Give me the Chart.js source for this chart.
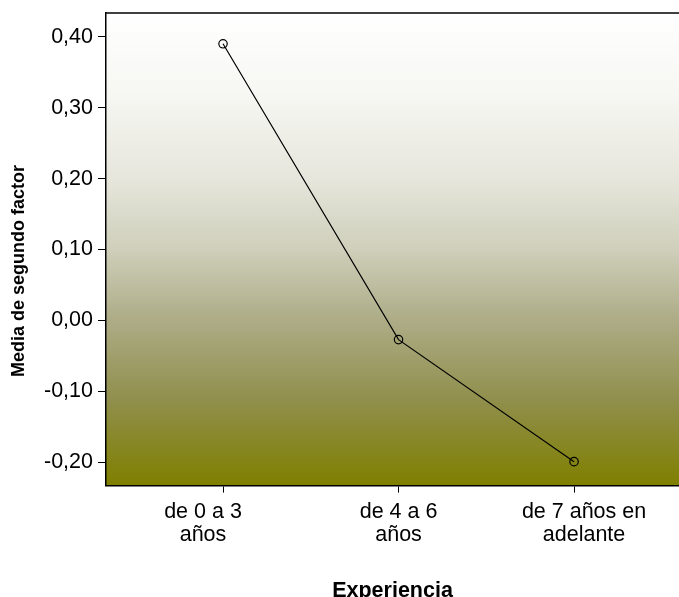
<!DOCTYPE html>
<html>
<head>
<meta charset="utf-8">
<script src="https://cdn.jsdelivr.net/npm/chart.js@4"></script>
<style>
  html, body { margin: 0; padding: 0; background: #fff; }
  #wrap { width: 679px; height: 597px; }
</style>
</head>
<body>
<div id="wrap"><canvas id="grafico" width="679" height="597"></canvas></div>
<script>
// datos
const categorias = [['de 0 a 3', 'años'], ['de 4 a 6', 'años'], ['de 7 años en', 'adelante']];
const medias = [0.390, -0.027, -0.199];
const ticksY = [-0.2, -0.1, 0.0, 0.1, 0.2, 0.3, 0.4];
const tituloX = 'Experiencia';
const tituloY = 'Media de segundo factor';

const fuente = "'Liberation Sans', Arial, sans-serif";
// corrimiento horizontal de las etiquetas del eje X (como en el original)
const corrEtiquetas = [-20, 0, 10];

const puntos = medias.map((v, i) => ({ x: i + 1, y: v }));

// fondo degradado del area del grafico
const fondo = {
  id: 'fondo',
  afterLayout(chart) {
    const items = chart.scales.x.getLabelItems(chart.chartArea);
    items.forEach((it, i) => { it.options.translation[0] += corrEtiquetas[i] || 0; });
  },
  beforeDraw(chart) {
    const { ctx, chartArea: a } = chart;
    const g = ctx.createLinearGradient(0, a.top, 0, a.bottom);
    g.addColorStop(0, '#ffffff');
    g.addColorStop(0.18, '#f6f6f2');
    g.addColorStop(0.35, '#e6e6dc');
    g.addColorStop(0.5, '#cfcfbb');
    g.addColorStop(0.65, '#adac86');
    g.addColorStop(0.82, '#908f4c');
    g.addColorStop(1, '#7f7f00');
    ctx.save();
    ctx.fillStyle = g;
    ctx.fillRect(a.left, a.top, a.right - a.left, a.bottom - a.top);
    ctx.restore();
  },
  afterDraw(chart) {
    const { ctx, chartArea: a } = chart;
    ctx.save();
    // linea superior
    ctx.strokeStyle = '#000';
    ctx.lineWidth = 1.5;
    ctx.beginPath();
    ctx.moveTo(a.left, a.top);
    ctx.lineTo(a.right, a.top);
    ctx.stroke();
    // titulo eje Y
    ctx.translate(19, 271);
    ctx.rotate(-Math.PI / 2);
    ctx.fillStyle = '#000';
    ctx.font = 'bold 18px ' + fuente;
    ctx.textAlign = 'center';
    ctx.textBaseline = 'middle';
    ctx.fillText(tituloY, 0, 0);
    ctx.restore();
  }
};

const ctx = document.getElementById('grafico').getContext('2d');
const grafico = new Chart(ctx, {
  type: 'line',
  data: {
    datasets: [{
      data: puntos,
      borderColor: '#000',
      borderWidth: 1.2,
      backgroundColor: 'rgba(0,0,0,0)',
      pointRadius: 4.2,
      pointBorderWidth: 1.2,
      pointBorderColor: '#000',
      pointBackgroundColor: 'rgba(0,0,0,0)',
      fill: false,
      tension: 0
    }]
  },
  options: {
    responsive: false,
    animation: false,
    layout: { autoPadding: false, padding: { top: 13, right: 0, bottom: 0, left: 0 } },
    plugins: {
      legend: { display: false },
      tooltip: { enabled: false }
    },
    scales: {
      x: {
        type: 'linear',
        min: 0.3333,
        max: 3.598,
        afterBuildTicks(scale) {
          scale.ticks = categorias.map((c, i) => ({ value: i + 1 }));
        },
        afterFit(scale) { scale.paddingLeft = 0; scale.paddingRight = 0; },
        ticks: {
          color: '#000',
          font: { family: fuente, size: 21.5, lineHeight: 1.06 },
          padding: 8,
          maxRotation: 0,
          autoSkip: false,
          callback: (v) => categorias[Math.round(v) - 1]
        },
        grid: {
          drawOnChartArea: false,
          drawTicks: true,
          tickLength: 7,
          tickColor: '#000'
        },
        border: { display: true, color: '#000', width: 1.5 },
        title: {
          display: true,
          text: tituloX,
          color: '#000',
          font: { family: fuente, size: 21.5, weight: 'bold' },
          padding: { top: 24, bottom: -7 }
        }
      },
      y: {
        min: -0.2328,
        max: 0.4334,
        afterFit(scale) {
          scale.width = 106;
          scale.paddingTop = 0;
          scale.paddingBottom = 0;
        },
        afterBuildTicks(scale) {
          scale.ticks = ticksY.map(v => ({ value: v }));
        },
        ticks: {
          color: '#000',
          font: { family: fuente, size: 21.5 },
          padding: 5,
          callback: (v) => v.toFixed(2).replace('.', ',')
        },
        grid: {
          drawOnChartArea: false,
          drawTicks: true,
          tickLength: 8,
          tickColor: '#000'
        },
        border: { display: true, color: '#000', width: 1.5 }
      }
    }
  },
  plugins: [fondo]
});
</script>
</body>
</html>
